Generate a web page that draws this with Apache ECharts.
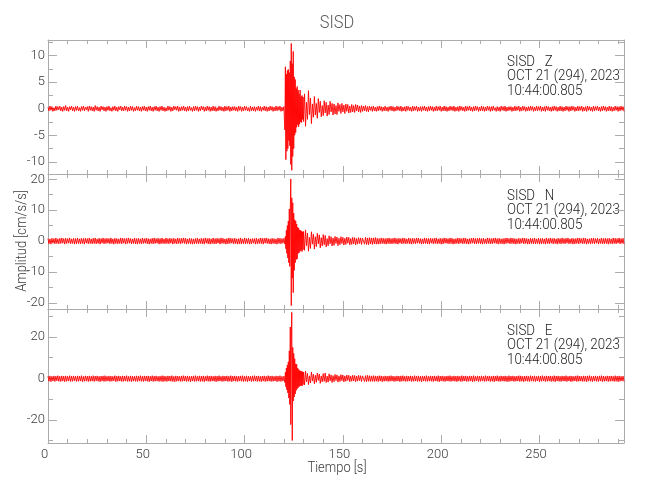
<!DOCTYPE html>
<html>
<head>
<meta charset="utf-8">
<script src="https://cdn.jsdelivr.net/npm/echarts@6/dist/echarts.min.js"></script>
<style>html,body{margin:0;padding:0;background:#fff}#c{width:650px;height:500px}</style>
</head>
<body>
<div id="c"></div>
<script>
// ---- sampling schedule (seconds) ----
const PRE_START = 0, PRE_STEP = 0.5;           // 0 .. 120 s
const BURST_START = 120.25, BURST_STEP = 0.25; // 120.25 .. 130 s
const POST_START = 130.5, POST_STEP = 0.5;     // 130.5 .. 293 s
const X_MAX = 293;

// ---- Z component (cm/s/s) ----
const Z_PRE = [
0.3,-0.4,0.5,-0.3,0.4,-0.5,0.2,-0.4,0.5,-0.3,
0.4,-0.2,0.5,-0.4,0.3,-0.5,0.4,-0.3,0.6,-0.4,
0.3,-0.5,0.4,-0.2,0.5,-0.4,0.3,-0.5,0.4,-0.3,
0.5,-0.4,0.2,-0.5,0.4,-0.3,0.5,-0.4,0.3,-0.2,
0.4,-0.5,0.5,-0.3,0.4,-0.4,0.3,-0.5,0.6,-0.3,
0.4,-0.4,0.3,-0.5,0.5,-0.2,0.4,-0.4,0.3,-0.5,
0.4,-0.3,0.5,-0.4,0.2,-0.5,0.4,-0.3,0.5,-0.4,
0.3,-0.5,0.4,-0.2,0.5,-0.4,0.3,-0.4,0.5,-0.3,
0.4,-0.5,0.3,-0.4,0.5,-0.3,0.4,-0.5,0.2,-0.4,
0.5,-0.3,0.4,-0.4,0.3,-0.5,0.4,-0.3,0.5,-0.4,
0.3,-0.5,0.4,-0.3,0.5,-0.4,0.3,-0.5,0.4,-0.3,
0.5,-0.4,0.3,-0.5,0.4,-0.3,0.5,-0.4,0.3,-0.5,
0.2,-0.4,0.5,-0.3,0.4,-0.5,0.3,-0.4,0.5,-0.2,
0.4,-0.3,0.5,-0.5,0.3,-0.4,0.4,-0.3,0.5,-0.4,
0.3,-0.5,0.4,-0.4,0.5,-0.3,0.2,-0.5,0.4,-0.4,
0.5,-0.3,0.4,-0.5,0.3,-0.4,0.5,-0.2,0.4,-0.5,
0.3,-0.4,0.5,-0.3,0.4,-0.5,0.3,-0.4,0.5,-0.4,
0.4,-0.5,0.2,-0.4,0.5,-0.3,0.4,-0.4,0.3,-0.5,
0.5,-0.4,0.4,-0.3,0.5,-0.5,0.3,-0.4,0.4,-0.3,
0.4,-0.4,0.3,-0.5,0.5,-0.3,0.4,-0.5,0.3,-0.4,
0.5,-0.3,0.4,-0.4,0.2,-0.5,0.5,-0.4,0.3,-0.4,
0.4,-0.5,0.3,-0.3,0.5,-0.4,0.4,-0.5,0.3,-0.3,
0.5,-0.4,0.4,-0.5,0.3,-0.4,0.5,-0.3,0.4,-0.5,
0.3,-0.4,0.5,-0.4,0.4,-0.3,0.5,-0.5,0.3,-0.4,
0.4];
const Z_BURST = [0.6,-4.0,7.9,-9.6,6.5,-8.0,7.2,-7.5,7.4,-6.0,6.8,-7.0,9.0,-10.5,12.3,-11.6,8.5,-9.0,10.8,-7.5,6.0,-5.0,5.5,-4.5,3.8,-3.5,4.2,-3.0,3.5,-3.4,2.8,-2.9,3.5,-2.5,2.3,-2.6,2.5,-2.0,2.2,-2.4];
const Z_POST = [
2.8,-3.3,1.2,-2.0,3.4,-1.1,2.0,-2.8,0.9,-1.6,
2.3,-1.2,1.0,-1.8,1.9,-0.7,1.4,-1.5,0.6,-1.3,
1.5,-0.8,1.2,-1.4,0.7,-1.1,1.4,-0.6,1.0,-1.2,
0.9,-1.0,0.6,-1.1,1.1,-0.5,0.8,-0.9,1.0,-0.6,
0.7,-0.9,0.9,-0.5,0.8,-0.8,0.5,-0.7,0.8,-0.6,
0.6,-0.7,0.8,-0.4,0.7,-0.6,0.5,-0.7,0.6,-0.5,
0.5,-0.4,0.6,-0.5,0.4,-0.6,0.5,-0.3,0.4,-0.5,
0.5,-0.4,0.3,-0.5,0.4,-0.4,0.5,-0.3,0.4,-0.5,
0.3,-0.4,0.5,-0.4,0.3,-0.5,0.4,-0.3,0.5,-0.4,
0.4,-0.5,0.3,-0.4,0.5,-0.3,0.4,-0.4,0.5,-0.5,
0.3,-0.4,0.4,-0.5,0.5,-0.3,0.4,-0.4,0.3,-0.5,
0.5,-0.4,0.4,-0.3,0.5,-0.5,0.3,-0.4,0.4,-0.5,
0.4,-0.3,0.5,-0.4,0.3,-0.5,0.4,-0.4,0.5,-0.3,
0.4,-0.5,0.3,-0.4,0.5,-0.4,0.4,-0.3,0.5,-0.5,
0.3,-0.4,0.5,-0.4,0.4,-0.5,0.3,-0.4,0.5,-0.3,
0.4,-0.4,0.5,-0.5,0.3,-0.4,0.4,-0.5,0.5,-0.3,
0.4,-0.4,0.3,-0.5,0.5,-0.4,0.4,-0.3,0.5,-0.4,
0.3,-0.5,0.4,-0.4,0.5,-0.3,0.4,-0.5,0.3,-0.4,
0.5,-0.4,0.4,-0.5,0.3,-0.4,0.5,-0.3,0.4,-0.5,
0.4,-0.4,0.5,-0.3,0.2,-0.5,0.4,-0.4,0.3,-0.5,
0.5,-0.3,0.4,-0.4,0.5,-0.5,0.3,-0.4,0.4,-0.3,
0.4,-0.5,0.3,-0.4,0.5,-0.4,0.4,-0.3,0.5,-0.5,
0.3,-0.4,0.5,-0.3,0.4,-0.5,0.3,-0.4,0.4,-0.4,
0.5,-0.3,0.4,-0.5,0.3,-0.4,0.5,-0.4,0.4,-0.3,
0.5,-0.5,0.3,-0.4,0.4,-0.5,0.5,-0.3,0.4,-0.4,
0.3,-0.5,0.4,-0.4,0.5,-0.3,0.4,-0.5,0.3,-0.4,
0.5,-0.4,0.4,-0.5,0.3,-0.4,0.5,-0.3,0.4,-0.5,
0.4,-0.4,0.5,-0.3,0.4,-0.5,0.3,-0.4,0.5,-0.4,
0.4,-0.3,0.5,-0.5,0.3,-0.4,0.4,-0.5,0.5,-0.3,
0.4,-0.4,0.3,-0.5,0.5,-0.4,0.4,-0.3,0.5,-0.4,
0.3,-0.5,0.4,-0.4,0.5,-0.3,0.4,-0.5,0.3,-0.4,
0.5,-0.4,0.4,-0.5,0.3,-0.4,0.5,-0.3,0.4,-0.5,
0.4,-0.4,0.5,-0.3,0.4,-0.5];

// ---- N component ----
const N_PRE = [
0.8,-0.9,0.7,-1.0,0.9,-0.7,0.8,-0.9,1.0,-0.8,
0.7,-0.9,0.9,-0.8,1.0,-0.7,0.8,-1.0,0.9,-0.8,
0.8,-0.7,1.0,-0.9,0.7,-0.8,0.9,-1.0,0.8,-0.9,
1.0,-0.8,0.7,-0.9,0.9,-0.8,0.8,-1.0,0.9,-0.7,
0.8,-0.9,1.0,-0.8,0.7,-0.9,0.9,-0.8,1.0,-0.9,
0.7,-0.8,0.9,-1.0,0.8,-0.7,1.0,-0.9,0.8,-0.8,
0.9,-0.7,0.8,-0.9,1.0,-0.8,0.7,-1.0,0.9,-0.8,
0.8,-0.9,0.7,-0.8,1.0,-0.9,0.9,-0.7,0.8,-1.0,
0.9,-0.8,1.0,-0.7,0.8,-0.9,0.7,-0.8,1.0,-0.9,
0.8,-1.0,0.9,-0.8,0.7,-0.9,1.0,-0.8,0.8,-0.7,
0.9,-0.9,0.8,-1.0,0.7,-0.8,0.9,-0.9,1.0,-0.8,
0.8,-0.7,0.9,-1.0,0.8,-0.9,1.0,-0.8,0.7,-0.9,
1.0,-0.8,0.8,-0.9,0.9,-0.7,0.8,-1.0,0.9,-0.8,
0.7,-0.9,1.0,-0.8,0.8,-0.9,0.9,-0.7,1.0,-0.8,
0.9,-1.0,0.7,-0.8,0.9,-0.9,0.8,-1.0,0.7,-0.9,
0.8,-0.8,1.0,-0.9,0.7,-0.8,0.9,-0.9,0.8,-1.0,
1.0,-0.7,0.8,-0.9,0.9,-1.0,0.7,-0.8,1.0,-0.9,
0.8,-0.9,0.9,-0.7,0.8,-1.0,1.0,-0.8,0.9,-0.8,
0.7,-1.0,0.8,-0.9,1.0,-0.8,0.9,-0.7,0.8,-0.9,
0.9,-0.8,0.7,-1.0,0.8,-0.9,1.0,-0.9,0.7,-0.8,
1.0,-0.9,0.8,-0.8,0.9,-1.0,0.7,-0.9,0.8,-0.7,
0.8,-1.0,0.9,-0.9,0.7,-0.8,1.0,-0.8,0.9,-1.0,
0.9,-0.7,1.0,-0.8,0.8,-0.9,0.7,-1.0,0.9,-0.8,
0.8,-0.9,0.7,-1.0,1.0,-0.8,0.9,-0.9,0.8,-0.7,
0.9];
const N_BURST = [0.8,-1.0,1.5,-2.5,3.5,-4.0,5.0,-5.5,6.5,-7.0,10.4,-8.2,9.5,20.1,-20.9,14.0,-12.0,12.4,-16.7,9.0,-9.5,6.9,-7.0,6.5,-6.0,5.5,-5.8,4.5,-4.0,4.2,-3.8,3.6,-3.3,3.5,-3.0,3.2,-3.4,3.0,-2.8,3.1];
const N_POST = [
-3.0,3.6,-1.5,2.6,-3.3,1.2,-2.4,3.0,-1.0,2.2,
-2.6,1.4,-1.8,2.5,-0.9,2.0,-2.2,1.1,-1.6,2.1,
-1.2,1.8,-1.9,0.8,-1.5,1.7,-0.9,1.4,-1.6,1.0,
-1.4,1.5,-0.8,1.3,-1.5,0.9,-1.2,1.4,-0.8,1.2,
-1.3,0.9,-1.1,1.3,-0.7,1.2,-1.2,0.8,-1.1,1.2,
-0.9,1.1,-1.2,0.8,-1.0,1.1,-0.8,1.0,-1.1,0.9,
1.1,-1.0,1.2,-1.1,1.0,-1.2,1.1,-0.9,1.0,-1.1,
1.0,-0.9,1.1,-1.0,0.9,-1.0,0.8,-0.9,1.0,-0.8,
0.9,-0.9,0.8,-1.0,0.9,-0.8,1.0,-0.9,0.8,-0.9,
0.9,-0.8,1.0,-0.9,0.8,-1.0,0.9,-0.7,0.8,-0.9,
1.0,-0.8,0.9,-0.9,0.7,-0.8,1.0,-0.9,0.8,-1.0,
0.9,-0.8,0.8,-0.9,1.0,-0.7,0.9,-0.8,0.8,-1.0,
0.7,-0.9,1.0,-0.8,0.9,-0.9,0.8,-1.0,0.9,-0.7,
0.8,-0.9,0.9,-0.8,1.0,-0.9,0.7,-0.8,0.9,-1.0,
0.8,-0.9,1.0,-0.7,0.9,-0.8,0.8,-0.9,1.0,-0.8,
0.9,-1.0,0.7,-0.9,0.8,-0.8,1.0,-0.9,0.9,-0.7,
0.8,-0.9,1.0,-0.8,0.9,-0.9,0.7,-1.0,0.8,-0.8,
0.9,-0.7,1.0,-0.9,0.8,-0.9,0.9,-0.8,1.0,-0.9,
0.8,-1.0,0.9,-0.8,0.7,-0.9,1.0,-0.8,0.9,-0.9,
0.8,-0.9,0.9,-0.7,1.0,-0.8,0.8,-1.0,0.9,-0.8,
0.7,-0.9,0.8,-1.0,0.9,-0.8,1.0,-0.7,0.8,-0.9,
1.0,-0.8,0.9,-0.9,0.8,-1.0,0.7,-0.8,0.9,-0.9,
0.8,-0.7,1.0,-0.9,0.9,-0.8,0.8,-1.0,0.7,-0.9,
0.9,-0.8,0.8,-0.9,1.0,-0.9,0.7,-0.8,0.9,-1.0,
0.8,-0.9,0.9,-0.8,0.7,-1.0,1.0,-0.8,0.8,-0.9,
1.0,-0.7,0.8,-0.9,0.9,-0.8,0.7,-1.0,0.9,-0.8,
0.8,-0.9,1.0,-0.8,0.8,-0.9,0.9,-0.7,1.0,-0.9,
0.7,-0.8,0.9,-1.0,0.8,-0.9,0.8,-0.8,1.0,-0.9,
0.9,-0.7,0.8,-0.9,1.0,-0.8,0.9,-1.0,0.7,-0.8,
0.8,-0.9,0.9,-0.8,1.0,-0.9,0.8,-0.7,0.9,-1.0,
0.7,-0.8,1.0,-0.9,0.8,-0.9,0.9,-0.8,0.8,-1.0,
0.9,-0.8,0.7,-0.9,1.0,-0.8,0.9,-0.9,0.8,-0.7,
1.0,-0.9,0.8,-0.8,0.9,-1.0];

// ---- E component ----
const E_PRE = [
1.1,-1.4,1.2,-1.6,1.0,-1.3,1.2,-1.5,1.1,-1.2,
1.3,-1.4,1.0,-1.5,1.2,-1.3,1.1,-1.6,1.2,-1.4,
1.0,-1.3,1.3,-1.5,1.1,-1.4,1.2,-1.2,1.0,-1.5,
1.2,-1.4,1.1,-1.3,1.3,-1.6,1.0,-1.4,1.2,-1.3,
1.1,-1.5,1.2,-1.4,1.0,-1.3,1.3,-1.5,1.1,-1.2,
1.2,-1.4,1.0,-1.6,1.1,-1.3,1.2,-1.5,1.3,-1.4,
1.0,-1.3,1.2,-1.5,1.1,-1.4,1.0,-1.2,1.3,-1.6,
1.1,-1.4,1.2,-1.3,1.0,-1.5,1.2,-1.4,1.1,-1.3,
1.3,-1.5,1.0,-1.4,1.2,-1.6,1.1,-1.3,1.0,-1.4,
1.2,-1.5,1.1,-1.3,1.3,-1.4,1.0,-1.5,1.2,-1.3,
1.1,-1.4,1.2,-1.6,1.0,-1.3,1.3,-1.5,1.1,-1.4,
1.2,-1.3,1.0,-1.5,1.1,-1.4,1.3,-1.6,1.2,-1.4,
1.0,-1.5,1.2,-1.3,1.1,-1.4,1.3,-1.5,1.0,-1.6,
1.2,-1.4,1.1,-1.3,1.0,-1.5,1.2,-1.4,1.3,-1.3,
1.1,-1.5,1.2,-1.4,1.0,-1.6,1.1,-1.3,1.2,-1.5,
1.3,-1.4,1.0,-1.3,1.2,-1.5,1.1,-1.4,1.2,-1.6,
1.0,-1.3,1.3,-1.4,1.1,-1.5,1.2,-1.3,1.0,-1.4,
1.2,-1.6,1.1,-1.4,1.3,-1.3,1.0,-1.5,1.2,-1.4,
1.1,-1.3,1.2,-1.5,1.0,-1.4,1.3,-1.6,1.1,-1.3,
1.2,-1.4,1.0,-1.5,1.1,-1.3,1.2,-1.4,1.3,-1.5,
1.0,-1.4,1.2,-1.6,1.1,-1.3,1.0,-1.5,1.2,-1.4,
1.3,-1.3,1.1,-1.5,1.2,-1.4,1.0,-1.6,1.1,-1.3,
1.2,-1.5,1.0,-1.4,1.3,-1.3,1.1,-1.5,1.2,-1.4,
1.0,-1.3,1.2,-1.6,1.1,-1.4,1.3,-1.5,1.0,-1.3,
1.1];
const E_BURST = [1.0,-2.0,3.0,-4.0,5.0,-5.5,6.5,-7.0,8.0,-9.5,13.3,-12.6,24.8,-22.3,18.0,31.9,-30.0,15.0,-10.9,12.0,-9.0,9.5,-7.5,7.0,-5.8,6.8,-5.0,5.0,-4.5,4.4,-4.0,3.8,-3.6,3.6,-3.5,3.4,-3.7,3.2,-3.0,3.1];
const E_POST = [
-3.2,3.5,-1.6,2.4,-3.0,1.2,-2.2,3.1,-1.3,2.0,
-2.6,1.5,-1.9,2.6,-1.0,2.1,-2.4,1.2,-1.7,2.3,
-1.4,2.6,-2.0,1.1,-1.8,2.2,-1.2,1.7,-2.0,1.3,
-1.6,1.9,-1.0,1.7,-1.8,1.2,-1.5,1.8,-1.1,1.6,
-1.7,1.2,-1.4,1.6,-1.0,1.5,-1.6,1.1,-1.4,1.5,
-1.2,1.4,-1.6,1.1,-1.3,1.5,-1.1,1.3,-1.5,1.2,
1.4,-1.5,1.3,-1.6,1.5,-1.4,1.3,-1.5,1.2,-1.4,
1.3,-1.5,1.2,-1.4,1.1,-1.5,1.3,-1.3,1.2,-1.6,
1.0,-1.4,1.2,-1.3,1.1,-1.5,1.2,-1.4,1.3,-1.3,
1.1,-1.5,1.0,-1.4,1.2,-1.3,1.1,-1.6,1.2,-1.4,
1.3,-1.3,1.0,-1.5,1.2,-1.4,1.1,-1.3,1.2,-1.5,
1.0,-1.4,1.3,-1.3,1.1,-1.5,1.2,-1.4,1.0,-1.6,
1.2,-1.3,1.1,-1.4,1.3,-1.5,1.0,-1.3,1.2,-1.4,
1.1,-1.5,1.2,-1.3,1.0,-1.4,1.3,-1.6,1.1,-1.3,
1.2,-1.4,1.0,-1.5,1.1,-1.3,1.2,-1.4,1.3,-1.5,
1.0,-1.3,1.2,-1.4,1.1,-1.6,1.2,-1.3,1.0,-1.5,
1.3,-1.4,1.1,-1.3,1.2,-1.5,1.0,-1.4,1.2,-1.3,
1.1,-1.6,1.3,-1.4,1.0,-1.3,1.2,-1.5,1.1,-1.4,
1.2,-1.3,1.0,-1.5,1.3,-1.4,1.1,-1.3,1.2,-1.5,
1.0,-1.4,1.2,-1.6,1.1,-1.3,1.3,-1.4,1.0,-1.5,
1.2,-1.3,1.1,-1.4,1.2,-1.5,1.0,-1.6,1.3,-1.4,
1.1,-1.3,1.2,-1.5,1.0,-1.4,1.1,-1.3,1.3,-1.5,
1.2,-1.4,1.0,-1.6,1.1,-1.3,1.2,-1.4,1.0,-1.5,
1.3,-1.3,1.1,-1.4,1.2,-1.5,1.0,-1.3,1.2,-1.6,
1.1,-1.4,1.3,-1.3,1.0,-1.5,1.2,-1.4,1.1,-1.3,
1.2,-1.5,1.0,-1.4,1.3,-1.6,1.1,-1.3,1.2,-1.4,
1.0,-1.5,1.2,-1.3,1.1,-1.4,1.3,-1.5,1.0,-1.3,
1.2,-1.6,1.1,-1.4,1.0,-1.3,1.2,-1.5,1.3,-1.4,
1.1,-1.3,1.0,-1.5,1.2,-1.4,1.1,-1.6,1.2,-1.3,
1.3,-1.4,1.0,-1.5,1.1,-1.3,1.2,-1.4,1.0,-1.5,
1.2,-1.3,1.3,-1.6,1.1,-1.4,1.0,-1.3,1.2,-1.5,
1.1,-1.4,1.2,-1.3,1.0,-1.5,1.3,-1.4,1.1,-1.6,
1.2,-1.4,1.0,-1.3,1.1,-1.5];

// ---- axes ticks / labels ----
const X_MAJOR = [0,50,100,150,200,250];
const X_MINOR = [10,20,30,40,60,70,80,90,110,120,130,140,160,170,180,190,210,220,230,240,260,270,280,290];
const Y_MAJOR = [[-10,-5,0,5,10],[-20,-10,0,10,20],[-20,0,20]];
const Y_MINOR = [[-7.5,-2.5,2.5,7.5,12.5],[-15,-5,5,15],[-30,-10,10,30]];
const Y_EXTENT = [[-12.3,12.95],[-22,21.7],[-31.2,33.5]];
const STATION = 'SISD';
const COMPONENTS = ['Z','N','E'];
const DATE_TEXT = 'OCT 21 (294), 2023';
const TIME_TEXT = '10:44:00.805';
const X_NAME = 'Tiempo [s]';
const Y_NAME = 'Amplitud [cm/s/s]';

const FAMILY = "Roboto,'Liberation Sans',sans-serif";
const AXIS_COLOR = '#ababab';
const LABEL_COLOR = '#3a3a3a';
const NARROW = 0.86;

function buildTrace(pre, burst, post) {
  const pts = [];
  pre.forEach((v, i) => pts.push([PRE_START + i * PRE_STEP, v]));
  burst.forEach((v, i) => pts.push([BURST_START + i * BURST_STEP, v]));
  post.forEach((v, i) => pts.push([POST_START + i * POST_STEP, v]));
  return pts;
}
const traces = [buildTrace(Z_PRE, Z_BURST, Z_POST), buildTrace(N_PRE, N_BURST, N_POST), buildTrace(E_PRE, E_BURST, E_POST)];

const grids = [
  {left: 48, right: 26, top: 40, height: 134},
  {left: 48, right: 26, top: 174, height: 135},
  {left: 48, right: 26, top: 309, height: 134}
];

const labelFont = {color: LABEL_COLOR, fontSize: 13, fontFamily: FAMILY, fontWeight: 300};
const xAxes = [], yAxes = [], series = [];
grids.forEach((gr, g) => {
  [['bottom', X_MAJOR, 8, g === 2, true], ['bottom', X_MINOR, 4, false, false],
   ['top', X_MAJOR, 8, false, true], ['top', X_MINOR, 4, false, false]].forEach(([pos, ticks, len, lab, line]) => {
    xAxes.push({
      type: 'value', gridIndex: g, position: pos, min: 0, max: X_MAX, interval: 50,
      axisLine: {show: line, onZero: false, lineStyle: {color: AXIS_COLOR, width: 1}},
      axisTick: {show: true, inside: true, length: len, customValues: ticks, lineStyle: {color: AXIS_COLOR, width: 1}},
      axisLabel: Object.assign({show: lab, customValues: X_MAJOR, margin: 5, padding: [0, 7, 0, 0]}, labelFont),
      splitLine: {show: false}
    });
  });
  [['left', Y_MAJOR[g], 9, true, true], ['left', Y_MINOR[g], 5, false, false],
   ['right', Y_MAJOR[g], 9, false, true], ['right', Y_MINOR[g], 5, false, false]].forEach(([pos, ticks, len, lab, line]) => {
    yAxes.push({
      type: 'value', gridIndex: g, position: pos, min: Y_EXTENT[g][0], max: Y_EXTENT[g][1],
      axisLine: {show: line, onZero: false, lineStyle: {color: AXIS_COLOR, width: 1}},
      axisTick: {show: true, inside: true, length: len, customValues: ticks, lineStyle: {color: AXIS_COLOR, width: 1}},
      axisLabel: Object.assign({show: lab, customValues: Y_MAJOR[g], margin: 3}, labelFont),
      splitLine: {show: false}
    });
  });
  series.push({
    type: 'line', xAxisIndex: g * 4, yAxisIndex: g * 4, data: traces[g],
    showSymbol: false, symbol: 'none', sampling: null, z: 1,
    lineStyle: {color: '#ff0000', width: 0.9}, emphasis: {disabled: true}
  });
});

function font(size) { return '300 ' + size + 'px ' + FAMILY; }
function txt(x, y, text, size, fill, align, rot) {
  return {type: 'text', x: x, y: y, rotation: rot || 0, scaleX: NARROW,
    style: {text: text, font: font(size), fill: fill, align: align, verticalAlign: 'middle'}};
}
const graphics = [
  txt(337, 23, STATION, 19, '#5a5a5a', 'center'),
  txt(22, 241, Y_NAME, 15, LABEL_COLOR, 'center', Math.PI / 2),
  txt(337, 468, X_NAME, 15, LABEL_COLOR, 'center')
];
const annTop = [62, 196, 331];
COMPONENTS.forEach((c, g) => {
  [STATION + '   ' + c, DATE_TEXT, TIME_TEXT].forEach((t, k) => {
    graphics.push(txt(507, annTop[g] + k * 14.5, t, 15.5, '#222222', 'left'));
  });
});

const chart = echarts.init(document.getElementById('c'), null, {renderer: 'canvas'});
chart.setOption({
  animation: false,
  backgroundColor: '#ffffff',
  grid: grids,
  xAxis: xAxes,
  yAxis: yAxes,
  series: series,
  graphic: graphics
});
</script>
</body>
</html>
